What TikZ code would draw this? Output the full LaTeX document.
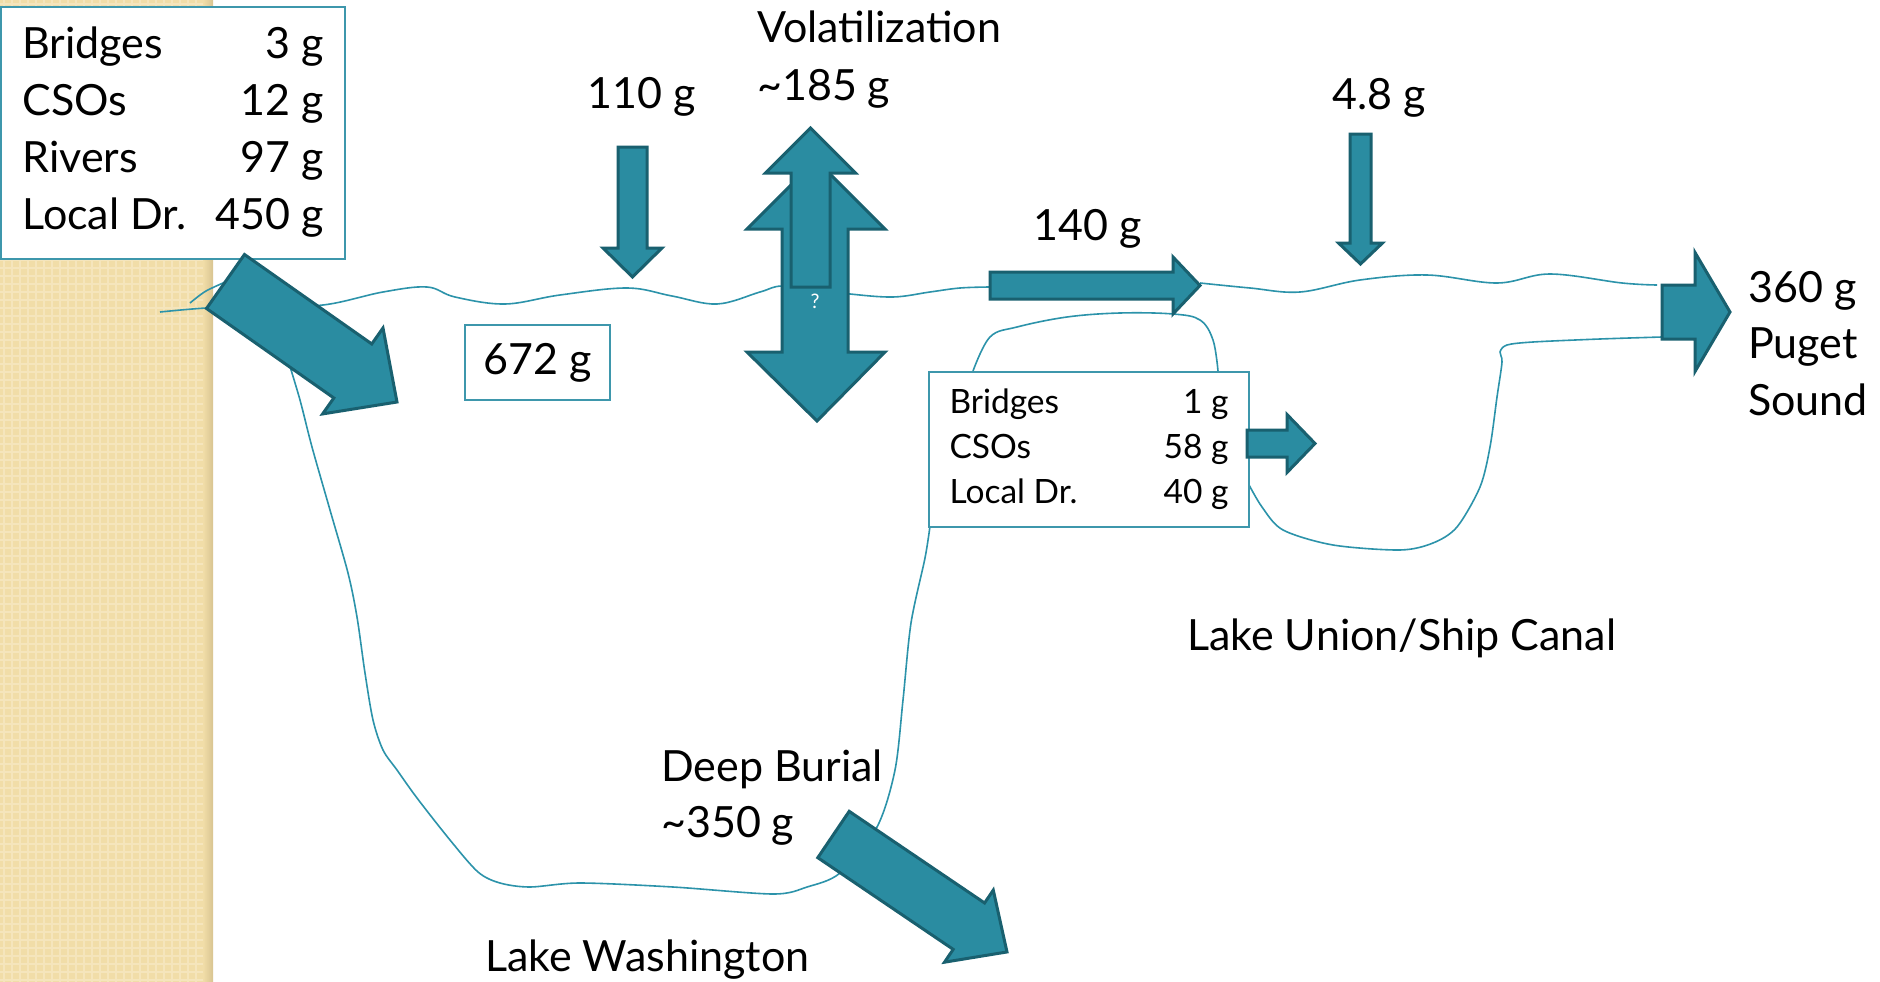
\documentclass[tikz,border=0pt]{standalone}
\usepackage{fontspec}
\setmainfont{Lato}
\definecolor{flowfill}{HTML}{2A8CA1}
\definecolor{flowedge}{HTML}{19606F}
\definecolor{shore}{HTML}{2C93AA}
\definecolor{frame}{HTML}{3E97AC}
\definecolor{sand}{HTML}{F1DDA8}
\definecolor{sandgrain}{HTML}{F5E5BC}
\definecolor{sandedge}{HTML}{D8C491}

\begin{document}
\begin{tikzpicture}[x=1pt,y=-1pt,
  every node/.style={text=black,inner sep=0pt,font=\fontsize{43}{57}\selectfont},
  lbl/.style={anchor=base west},
  flow/.style={fill=flowfill,draw=flowedge,line width=3pt,line join=miter},
  coast/.style={draw=shore,line width=1.6pt},
  tally/.style={draw=frame,line width=2pt,fill=white,anchor=north west},
  grain/.style={draw=sandgrain,line width=1.2pt}]

% Picture is laid out in pixels of the slide, y grows downwards.
\useasboundingbox (0,0) rectangle (1880,982);
\fill[white] (0,0) rectangle (1880,982);

% block arrow: tail, angle, length, half shaft, half head, head length
\def\fatarrow#1#2#3#4#5#6{%
  \draw[flow,shift={#1},rotate=#2] (0,-#4) -- ({#3-#6},-#4) -- ({#3-#6},-#5)
    -- (#3,0) -- ({#3-#6},#5) -- ({#3-#6},#4) -- (0,#4) -- cycle;}

% -------------------------------------------------------------------------
% Sand strip on the left.
% -------------------------------------------------------------------------
\fill[sand] (0,0) rectangle (213,982);
\foreach \gx in {4,12,...,204} \draw[grain] (\gx,0) -- (\gx,982);
\foreach \gy in {4,12,...,980} \draw[grain] (0,\gy) -- (205,\gy);
\shade[left color=sand,right color=sandedge] (203,0) rectangle (213,982);

% -------------------------------------------------------------------------
% Shore lines.
% -------------------------------------------------------------------------
\draw[coast] plot[smooth,tension=.6] coordinates {(160,312) (206,308)
  (260,306) (323,305) (383,292) (427,287) (455,297) (505,304) (560,295)
  (627,288) (672,296) (717,304) (760,292) (782,286) (820,290) (850,294)
  (893,297) (930,292) (960,288) (990,287)};
\draw[coast] plot[smooth,tension=.6] coordinates {(1200,283) (1250,288)
  (1300,292) (1360,280) (1427,275) (1497,283) (1550,274) (1622,283)
  (1657,285)};
\draw[coast] plot[smooth] coordinates {(190,303) (206,291) (230,280)};

% Lake Washington
\draw[coast] plot[smooth,tension=.5] coordinates {(288,360) (300,400)
  (312,447) (330,510) (348,573) (357,617) (365,673) (373,720) (383,750)
  (397,770) (417,798) (450,840) (478,872) (500,883) (530,887) (580,883)
  (673,887) (773,894) (807,887) (840,873) (877,827) (895,770) (903,700)
  (911,623) (925,558) (930,526)};

% Lake Union / Ship Canal
\draw[coast] plot[smooth,tension=.6] coordinates {(973,371) (990,337)
  (1017,327) (1067,317) (1120,313) (1173,314) (1200,320) (1213,340)
  (1218,371)};
\draw[coast] plot[smooth,tension=.5] coordinates {(1248,483) (1262,507)
  (1283,530) (1333,545) (1400,550) (1433,543) (1457,527) (1480,487)
  (1490,447) (1497,397) (1502,362) (1500,352) (1507,345) (1533,342)
  (1600,339) (1662,337)};

% -------------------------------------------------------------------------
% Loading tables.
% -------------------------------------------------------------------------
\node[tally,minimum width=344pt,minimum height=252pt] (inputs) at (0,6)
  {\begin{tabular*}{301pt}{@{}l@{\extracolsep{\fill}}r@{}}
   Bridges & 3 g\\ CSOs & 12 g\\ Rivers & 97 g\\ Local Dr. & 450 g
   \end{tabular*}};
\node[tally,minimum width=145pt,minimum height=75pt] (stock) at (464,324)
  {672 g};
\node[tally,minimum width=320pt,minimum height=155pt,
  font=\fontsize{33.5}{45}\selectfont] (canal) at (928,371)
  {\begin{tabular*}{279pt}{@{}l@{\extracolsep{\fill}}r@{}}
   Bridges & 1 g\\ CSOs & 58 g\\ Local Dr. & 40 g
   \end{tabular*}};

% -------------------------------------------------------------------------
% Fluxes.
% -------------------------------------------------------------------------
\fatarrow{(225.5,281.5)}{-35.1}{209.6}{33}{52.5}{54}
\fatarrow{(632.5,147)}{-90}{130}{14.5}{29.5}{29}
\draw[flow] (816,160) -- (885,229) -- (848,229) -- (848,352) -- (885,352)
  -- (817,421) -- (747,352) -- (782,352) -- (782,229) -- (747,229) -- cycle;
\fatarrow{(810.5,287)}{90}{159}{19.5}{45}{45}
\fatarrow{(990,285.5)}{0}{210}{13.5}{28.5}{27}
\fatarrow{(1360.5,134)}{-90}{130}{10.5}{22}{21}
\fatarrow{(1247,443.5)}{0}{68}{13.5}{29}{28}
\fatarrow{(1662,312)}{0}{68}{27}{59.5}{35}
\fatarrow{(833.5,834.5)}{-34.1}{209.5}{28}{43.5}{46}
\node[text=white,font=\fontsize{20}{22}\selectfont] (unsure) at (815,301) {?};

% -------------------------------------------------------------------------
% Labels.
% -------------------------------------------------------------------------
\node[lbl] (wet)   at (587,108)  {110 g};
\node[lbl] (vol)   at (757,43)   {Volatilization};
\node[lbl] (volg)  at (757,100)  {\textasciitilde185 g};
\node[lbl] (pass)  at (1033,240) {140 g};
\node[lbl] (dry)   at (1332,109) {4.8 g};
\node[lbl] (out)   at (1748,302) {360 g};
\node[lbl] (sea)   at (1748,358) {Puget};
\node[lbl] (sea2)  at (1748,415) {Sound};
\node[lbl] (bur)   at (661,781)  {Deep Burial};
\node[lbl] (burg)  at (661,837)  {\textasciitilde350 g};
\node[lbl] (lakew) at (485,971)  {Lake Washington};
\node[lbl] (lakeu) at (1187,650) {Lake Union/Ship Canal};
\end{tikzpicture}
\end{document}
